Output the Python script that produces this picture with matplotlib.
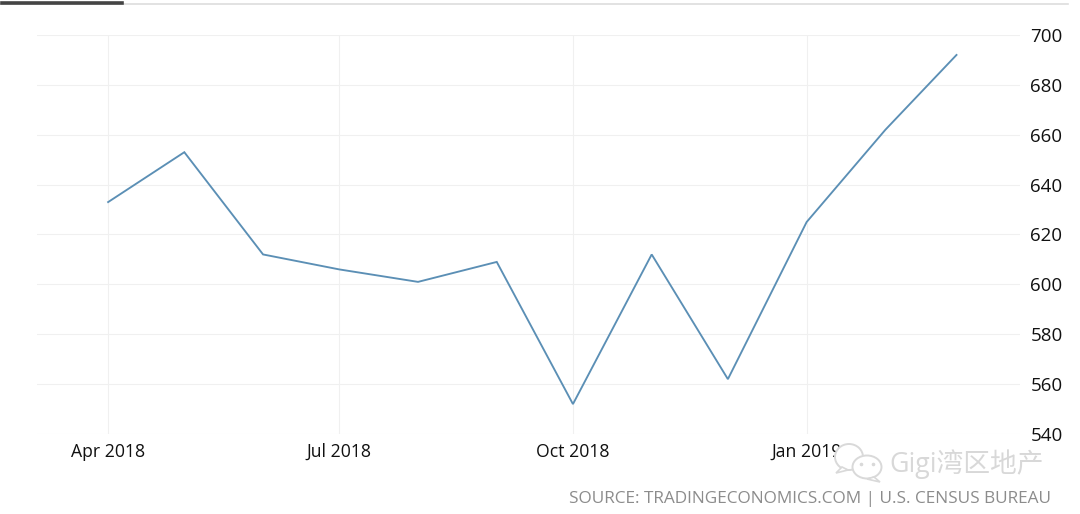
import matplotlib
matplotlib.use('Agg')
import matplotlib.pyplot as plt
import matplotlib.dates as mdates
from matplotlib.patches import Ellipse, Polygon
import pandas as pd

plt.rcParams['font.family'] = ['Open Sans', 'Noto Sans CJK SC', 'DejaVu Sans']

months = ['2018-04', '2018-05', '2018-06', '2018-07', '2018-08', '2018-09',
          '2018-10', '2018-11', '2018-12', '2019-01', '2019-02', '2019-03']
sales = [633, 653, 612, 606, 601, 609, 552, 612, 562, 625, 662, 692]
yticks = list(range(540, 701, 20))
xticks = ['2018-04', '2018-07', '2018-10', '2019-01']
source = 'SOURCE: TRADINGECONOMICS.COM | U.S. CENSUS BUREAU'
watermark = 'Gigi湾区地产'

W, H = 1080, 514
fig = plt.figure(figsize=(W / 100, H / 100), dpi=100)
ax = fig.add_axes([37 / W, 1 - 434 / H, (1020 - 37) / W, (434 - 35) / H])

dates = pd.to_datetime(months)
ax.plot(dates, sales, color='#5b8fb5', lw=1.35, solid_joinstyle='miter', clip_on=False)

ax.set_ylim(540, 700)
ax.set_xlim(pd.Timestamp('2018-03-04'), pd.Timestamp('2019-03-26'))
ax.set_yticks(yticks)
ax.yaxis.tick_right()
ax.set_xticks(pd.to_datetime(xticks))
ax.xaxis.set_major_formatter(mdates.DateFormatter('%b %Y'))
ax.tick_params(length=0, labelcolor='#111111')
ax.tick_params(axis='y', pad=7.5, labelsize=13.5)
ax.tick_params(axis='x', pad=6.5, labelsize=12.7)
ax.grid(True, axis='y', color='#f0f0f0', lw=0.8)
ax.grid(True, axis='x', color='#f0f0f0', lw=0.8)
ax.set_axisbelow(True)
for s in ax.spines.values():
    s.set_visible(False)

# top tab line
fig.add_artist(plt.Line2D([0, 1068 / W], [1 - 4 / H, 1 - 4 / H], color='#dddddd', lw=1.2))
fig.add_artist(plt.Line2D([2 / W, 122 / W], [1 - 3 / H, 1 - 3 / H], color='#444444', lw=2.6))

fig.text(1051 / W, 1 - 499 / H, source, ha='right', va='center', fontsize=12.4, color='#8c8c8c')

# wechat watermark
icon = fig.add_axes([0, 0, 1, 1], facecolor='none')
icon.set_xlim(0, W)
icon.set_ylim(H, 0)
icon.axis('off')
wm = '#d9d9d9'
icon.add_patch(Ellipse((849, 457), 28, 26, fc='white', ec=wm, lw=1.4))
icon.add_patch(Polygon([[842, 467], [836, 473], [848, 470]], fc='white', ec=wm, lw=1.2))
icon.add_patch(Ellipse((867, 467), 29, 23, fc='white', ec=wm, lw=1.4))
icon.add_patch(Polygon([[874, 477], [880, 482], [867, 479]], fc='white', ec=wm, lw=1.2))
icon.plot([861, 873], [464, 464], ls='none', marker='o', ms=1.6, color=wm)
icon.text(889, 464, watermark, ha='left', va='center', fontsize=19.3, color='#d8d8d8')

fig.savefig('out.png', dpi=100)
